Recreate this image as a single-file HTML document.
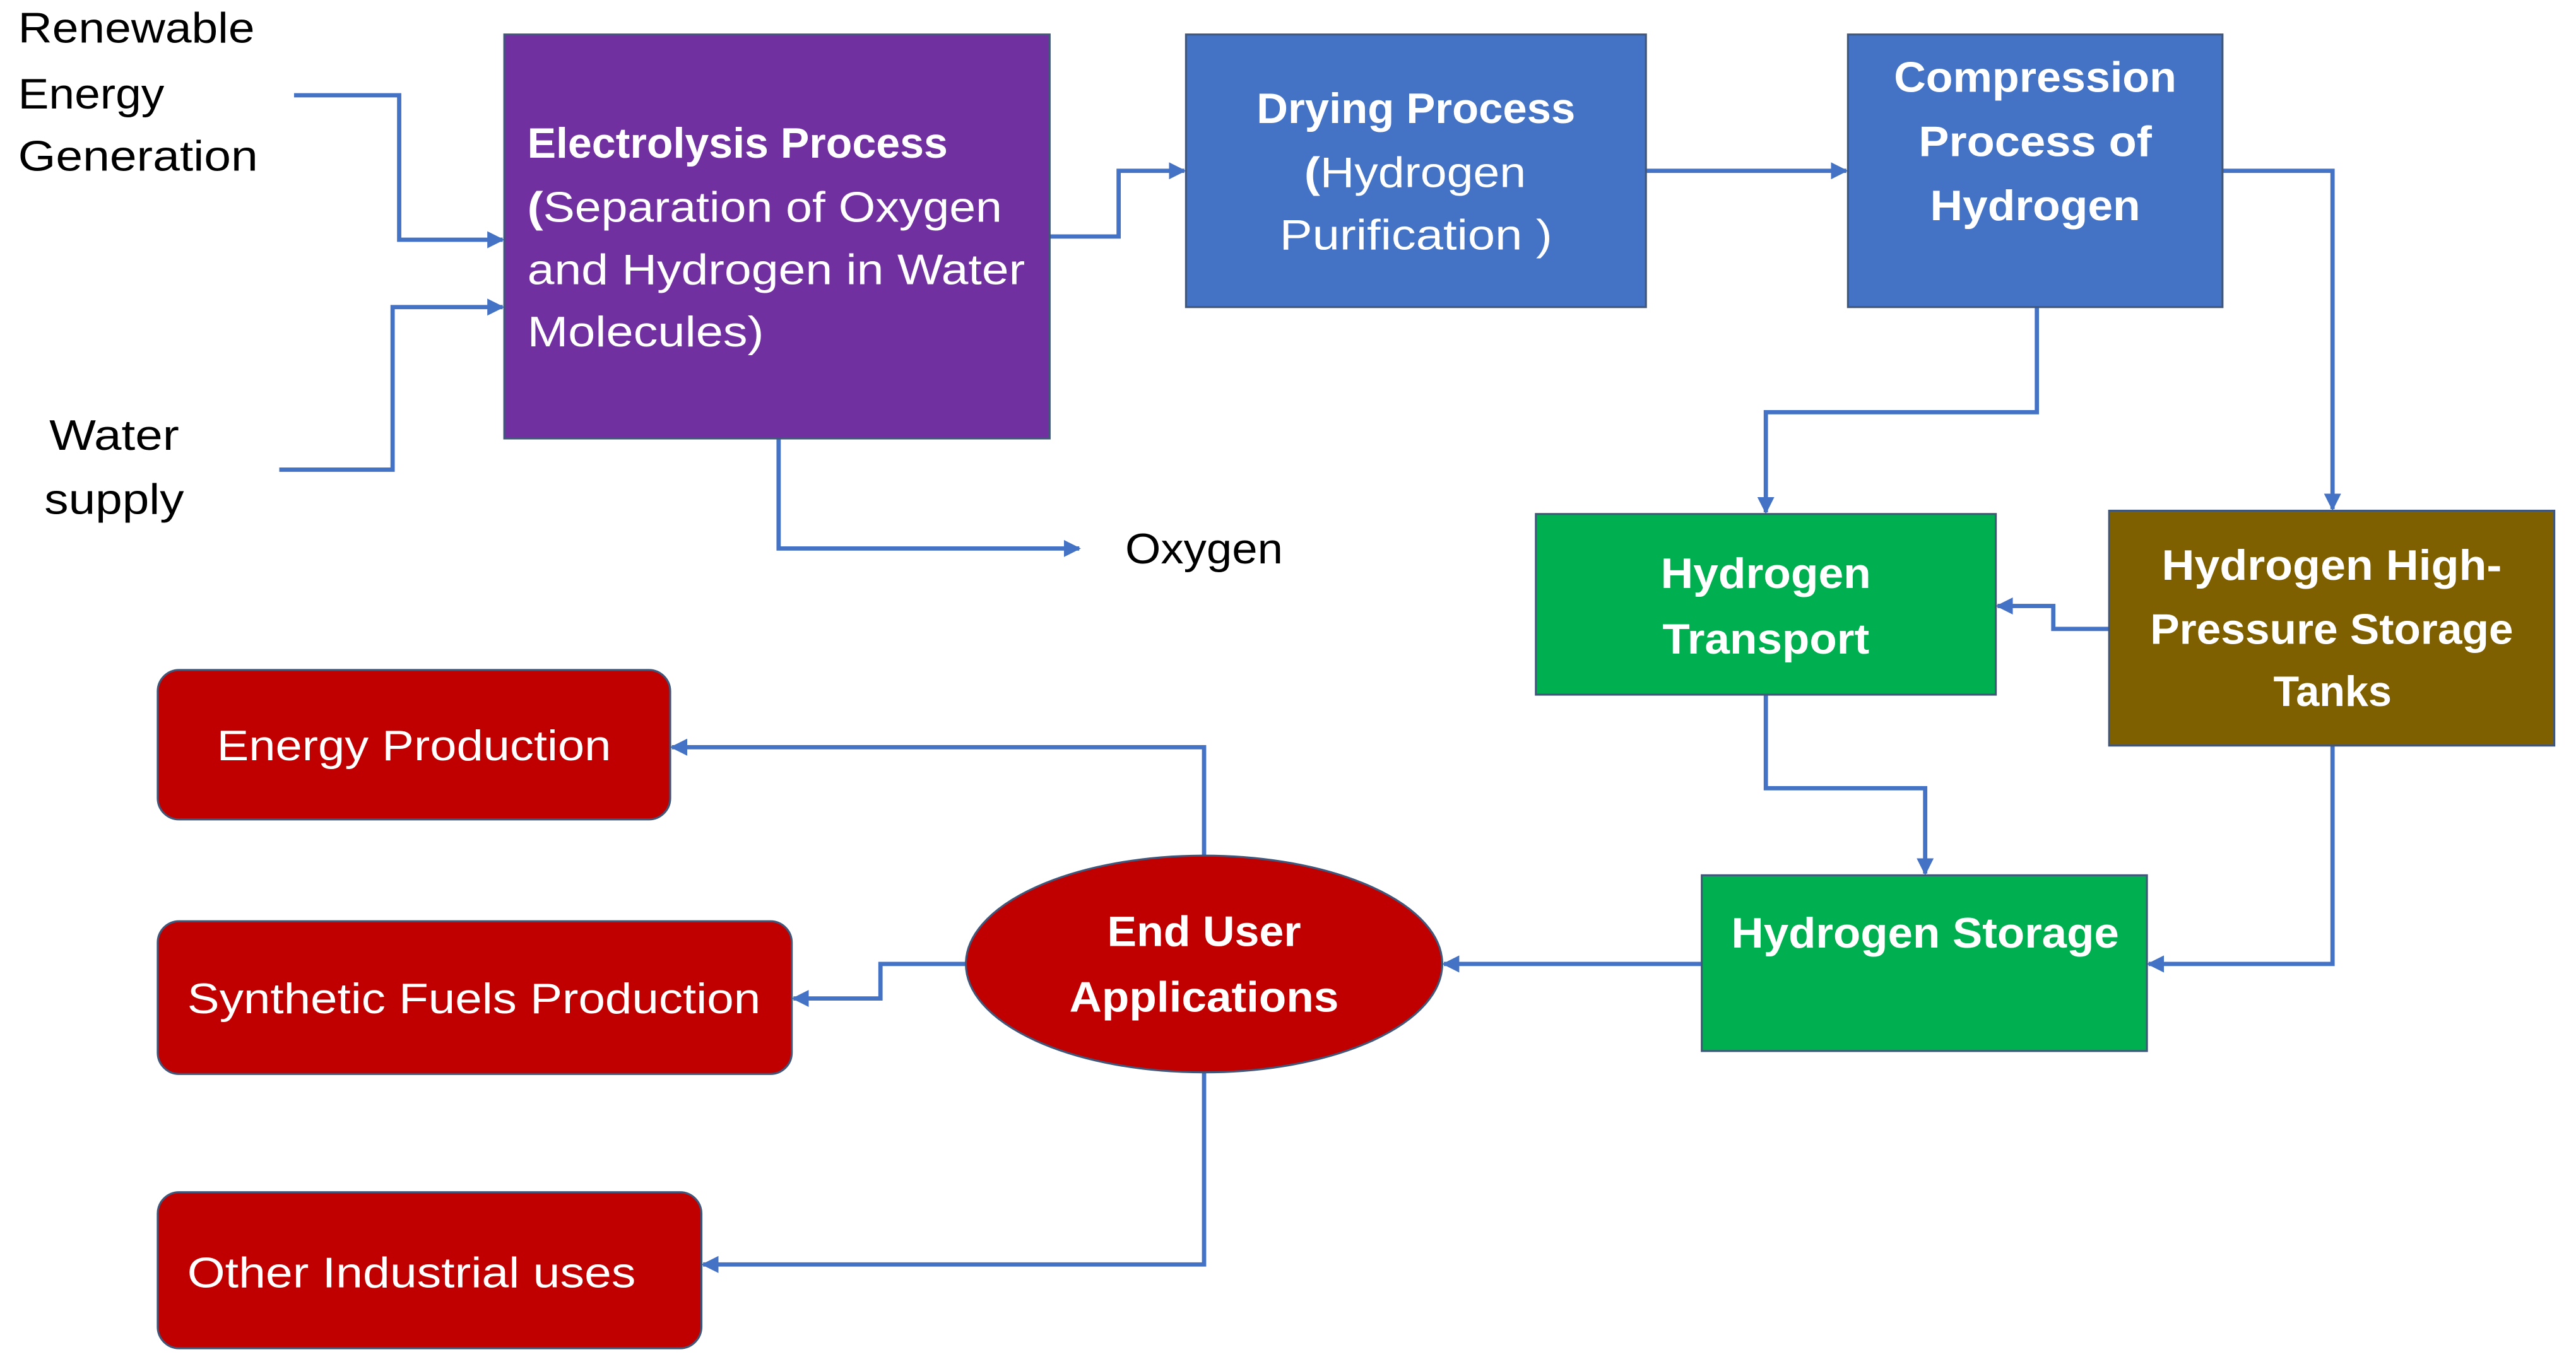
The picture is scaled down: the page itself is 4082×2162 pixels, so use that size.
<!DOCTYPE html>
<html><head><meta charset="utf-8"><style>html,body{margin:0;padding:0;background:#fff}svg{display:block}</style></head>
<body>
<svg xmlns="http://www.w3.org/2000/svg" width="4082" height="2162" viewBox="0 0 1568.2 830.6" font-family="'Liberation Sans', sans-serif" font-size="26">
<defs>
<marker id="a" viewBox="0 0 10 10" refX="9" refY="5" markerWidth="4" markerHeight="4" orient="auto" markerUnits="strokeWidth"><path d="M0,0 L10,5 L0,10 z" fill="#4472C4"/></marker>
</defs>
<rect width="1568.2" height="830.6" fill="#fff"/>
<g fill="none" stroke="#4472C4" stroke-width="2.6" marker-end="url(#a)">
<polyline points="179,58 243,58 243,146 306,146"/>
<polyline points="170,286 239,286 239,187 306,187"/>
<polyline points="639,144 681,144 681,104 721,104"/>
<polyline points="1002,104 1124,104"/>
<polyline points="1353,104 1420,104 1420,310"/>
<polyline points="1240,187 1240,251 1075,251 1075,312"/>
<polyline points="1284,383 1250,383 1250,369 1216,369"/>
<polyline points="1075,423 1075,480 1172,480 1172,532"/>
<polyline points="1420,454 1420,587 1308,587"/>
<polyline points="1036,587 879,587"/>
<polyline points="733,521 733,455 409,455"/>
<polyline points="588,587 536,587 536,608 483,608"/>
<polyline points="733,653 733,770 428,770"/>
<polyline points="474,267 474,334 657,334"/>
</g>
<g stroke="#41577a" stroke-width="1.2">
<rect x="307" y="21" width="332" height="246" fill="#7030A0"/>
<rect x="722" y="21" width="280" height="166" fill="#4472C4"/>
<rect x="1125" y="21" width="228" height="166" fill="#4472C4"/>
<rect x="935" y="313" width="280" height="110" fill="#00B050"/>
<rect x="1284" y="311" width="271" height="143" fill="#7F6000"/>
<rect x="1036" y="533" width="271" height="107" fill="#00B050"/>
<ellipse cx="733" cy="587" rx="145" ry="66" fill="#C00000"/>
<rect x="96" y="408" width="312" height="91" rx="13" fill="#C00000"/>
<rect x="96" y="561" width="386" height="93" rx="13" fill="#C00000"/>
<rect x="96" y="726" width="331" height="95" rx="13" fill="#C00000"/>
</g>
<g fill="#000" lengthAdjust="spacingAndGlyphs">
<text x="11" y="26" textLength="144" lengthAdjust="spacingAndGlyphs">Renewable</text>
<text x="11" y="66" textLength="89" lengthAdjust="spacingAndGlyphs">Energy</text>
<text x="11" y="104" textLength="146" lengthAdjust="spacingAndGlyphs">Generation</text>
<text x="30" y="274" textLength="79" lengthAdjust="spacingAndGlyphs">Water</text>
<text x="27" y="313" textLength="85" lengthAdjust="spacingAndGlyphs">supply</text>
<text x="685" y="343" textLength="96" lengthAdjust="spacingAndGlyphs">Oxygen</text>
</g>
<g fill="#fff">
<text x="321" y="96" font-weight="bold" textLength="256" lengthAdjust="spacingAndGlyphs">Electrolysis Process</text>
<text x="321" y="135" textLength="289" lengthAdjust="spacingAndGlyphs"><tspan font-weight="bold">(</tspan>Separation of Oxygen</text>
<text x="321" y="173" textLength="303" lengthAdjust="spacingAndGlyphs">and Hydrogen in Water</text>
<text x="321" y="211" textLength="144" lengthAdjust="spacingAndGlyphs">Molecules)</text>
<text x="765" y="75" font-weight="bold" textLength="194" lengthAdjust="spacingAndGlyphs">Drying Process</text>
<text x="794" y="114" textLength="135" lengthAdjust="spacingAndGlyphs"><tspan font-weight="bold">(</tspan>Hydrogen</text>
<text x="779" y="152" textLength="166" lengthAdjust="spacingAndGlyphs">Purification )</text>
<g font-weight="bold">
<text x="1153" y="56" textLength="172" lengthAdjust="spacingAndGlyphs">Compression</text>
<text x="1168" y="95" textLength="142" lengthAdjust="spacingAndGlyphs">Process  of</text>
<text x="1175" y="134" textLength="128" lengthAdjust="spacingAndGlyphs">Hydrogen</text>
<text x="1011" y="358" textLength="128" lengthAdjust="spacingAndGlyphs">Hydrogen</text>
<text x="1012" y="398" textLength="126" lengthAdjust="spacingAndGlyphs">Transport</text>
<text x="1316" y="353" textLength="207" lengthAdjust="spacingAndGlyphs">Hydrogen High-</text>
<text x="1309" y="392" textLength="221" lengthAdjust="spacingAndGlyphs">Pressure Storage</text>
<text x="1384" y="430" textLength="72" lengthAdjust="spacingAndGlyphs">Tanks</text>
<text x="1054" y="577" textLength="236" lengthAdjust="spacingAndGlyphs">Hydrogen Storage</text>
<text x="674" y="576" textLength="118" lengthAdjust="spacingAndGlyphs">End User</text>
<text x="651" y="616" textLength="164" lengthAdjust="spacingAndGlyphs">Applications</text>
</g>
<text x="132" y="463" textLength="240" lengthAdjust="spacingAndGlyphs">Energy Production</text>
<text x="114" y="617" textLength="349" lengthAdjust="spacingAndGlyphs">Synthetic Fuels Production</text>
<text x="114" y="784" textLength="273" lengthAdjust="spacingAndGlyphs">Other Industrial uses</text>
</g>
</svg>
</body></html>
